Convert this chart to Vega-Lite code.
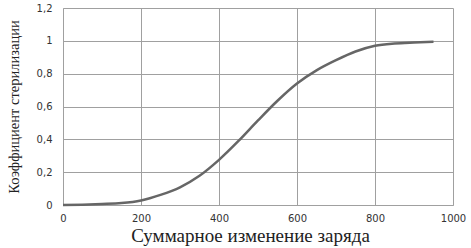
{
  "$schema": "https://vega.github.io/schema/vega-lite/v6.json",
  "width": 390,
  "height": 197,
  "autosize": {"type": "none"},
  "padding": {"left": 63, "top": 8, "right": 18, "bottom": 43},
  "background": "white",
  "config": {"view": {"stroke": null}},
  "data": {
    "values": [
      {"q": 0, "k": 0},
      {"q": 50, "k": 0.002},
      {"q": 100, "k": 0.006},
      {"q": 150, "k": 0.012},
      {"q": 200, "k": 0.028},
      {"q": 250, "k": 0.062},
      {"q": 300, "k": 0.108},
      {"q": 350, "k": 0.178},
      {"q": 400, "k": 0.275},
      {"q": 450, "k": 0.39},
      {"q": 500, "k": 0.515},
      {"q": 550, "k": 0.635},
      {"q": 600, "k": 0.74},
      {"q": 650, "k": 0.82},
      {"q": 700, "k": 0.882},
      {"q": 750, "k": 0.935},
      {"q": 800, "k": 0.97},
      {"q": 850, "k": 0.984},
      {"q": 900, "k": 0.99},
      {"q": 950, "k": 0.994}
    ]
  },
  "mark": {"type": "line", "interpolate": "monotone", "color": "#666666", "strokeWidth": 2.5},
  "encoding": {
    "x": {
      "field": "q",
      "type": "quantitative",
      "scale": {"domain": [0, 1000], "nice": false},
      "axis": {
        "values": [0, 200, 400, 600, 800, 1000],
        "format": "d",
        "grid": true,
        "gridColor": "#a0a0a0",
        "gridWidth": 1,
        "domainColor": "#a0a0a0",
        "ticks": false,
        "labelFlush": false,
        "labelOverlap": false,
        "labelPadding": 8,
        "labelFont": "DejaVu Sans",
        "labelFontSize": 10,
        "labelColor": "#333333",
        "title": "Суммарное изменение заряда",
        "titleFont": "Liberation Serif",
        "titleFontSize": 19,
        "titleFontWeight": "normal",
        "titleColor": "#222222",
        "titlePadding": 3,
        "titleX": 187
      }
    },
    "y": {
      "field": "k",
      "type": "quantitative",
      "scale": {"domain": [0, 1.2], "nice": false},
      "axis": {
        "values": [0, 0.2, 0.4, 0.6, 0.8, 1, 1.2],
        "labelExpr": "replace(format(datum.value, '.1~f'), '.', ',')",
        "grid": true,
        "gridColor": "#a0a0a0",
        "gridWidth": 1,
        "domainColor": "#a0a0a0",
        "ticks": false,
        "labelPadding": 11,
        "labelFont": "DejaVu Sans",
        "labelFontSize": 10,
        "labelColor": "#333333",
        "title": "Коэффициент стерилизации",
        "titleFont": "Liberation Serif",
        "titleFontSize": 14.5,
        "titleFontWeight": "normal",
        "titleColor": "#222222",
        "titleX": -42
      }
    }
  }
}
